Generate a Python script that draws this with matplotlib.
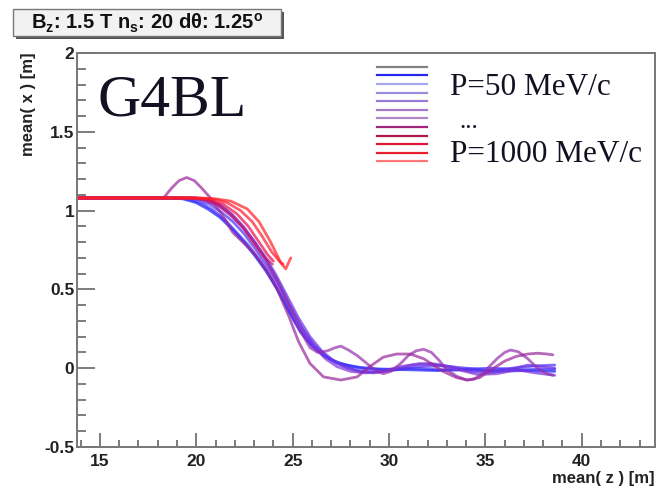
import matplotlib
matplotlib.use("Agg")
import matplotlib.pyplot as plt
from matplotlib.patches import Rectangle
from matplotlib.lines import Line2D

plt.rcParams['mathtext.fontset'] = 'custom'
plt.rcParams['mathtext.rm'] = 'Liberation Sans:bold'
plt.rcParams['mathtext.it'] = 'Liberation Sans:bold'
plt.rcParams['mathtext.bf'] = 'Liberation Sans:bold'

# ---------------- data ----------------
z_p1 = [13.9, 18.5, 19.3, 20.0, 20.6, 21.2, 21.8, 22.4, 23.0, 23.6, 24.2, 24.8, 25.4, 26.0, 26.6, 27.2, 27.8, 28.5, 29.5, 31.0, 32.5, 34.0, 35.5, 37.0, 38.6]
x_p1 = [1.08, 1.08, 1.075, 1.05, 1.01, 0.96, 0.89, 0.81, 0.72, 0.62, 0.50, 0.36, 0.23, 0.14, 0.08, 0.04, 0.02, 0.005, -0.005, -0.01, -0.015, -0.01, -0.02, -0.015, -0.02]

z_p2 = [13.9, 19.0, 19.7, 20.3, 20.9, 21.5, 22.1, 22.7, 23.3, 23.9, 24.5, 25.1, 25.7, 26.3, 26.9, 27.5, 28.1, 28.8, 29.8, 31.2, 32.6, 34.0, 35.4, 36.8, 38.6]
x_p2 = [1.08, 1.08, 1.07, 1.045, 1.0, 0.94, 0.86, 0.78, 0.68, 0.57, 0.44, 0.30, 0.19, 0.11, 0.06, 0.03, 0.01, -0.005, -0.01, 0.0, -0.01, -0.005, 0.0, -0.01, -0.005]

z_p3 = [13.9, 19.4, 20.1, 20.7, 21.3, 21.9, 22.5, 23.1, 23.7, 24.3, 24.9, 25.5, 26.1, 26.7, 27.3, 27.9, 28.6, 29.4, 30.4, 31.6, 32.8, 34.0, 35.2, 36.4, 37.6, 38.6]
x_p3 = [1.08, 1.08, 1.07, 1.04, 0.99, 0.93, 0.85, 0.75, 0.64, 0.52, 0.38, 0.25, 0.15, 0.08, 0.03, 0.0, -0.02, -0.025, -0.01, 0.01, 0.015, 0.0, -0.015, 0.0, 0.015, 0.02]

z_p4 = [13.9, 19.8, 20.5, 21.1, 21.7, 22.3, 22.9, 23.5, 24.1, 24.7, 25.3, 25.9, 26.5, 27.1, 27.7, 28.4, 29.2, 30.2, 31.2, 32.2, 33.2, 34.2, 35.2, 36.2, 37.2, 38.6]
x_p4 = [1.08, 1.08, 1.065, 1.035, 0.98, 0.91, 0.82, 0.72, 0.60, 0.46, 0.32, 0.20, 0.11, 0.05, 0.01, -0.02, -0.03, -0.01, 0.02, 0.03, 0.01, -0.02, -0.03, -0.01, 0.02, 0.0]

z_p5 = [13.9, 20.0, 20.7, 21.3, 21.9, 22.5, 23.1, 23.7, 24.3, 24.9, 25.5, 26.1, 26.7, 27.3, 28.0, 28.8, 29.6, 30.6, 31.6, 32.6, 33.6, 34.6, 35.6, 36.6, 37.6, 38.6]
x_p5 = [1.08, 1.08, 1.06, 1.03, 0.97, 0.89, 0.79, 0.67, 0.54, 0.39, 0.25, 0.14, 0.06, 0.01, -0.02, -0.03, -0.02, 0.01, 0.03, 0.02, -0.01, -0.04, -0.035, -0.01, -0.03, -0.045]

z_p6 = [13.9, 20.0, 20.6, 21.2, 21.8, 22.4, 23.0, 23.6, 24.2, 24.8, 25.3, 25.9, 26.3, 26.8, 27.2, 27.5, 27.9, 28.35, 28.95, 29.3, 29.7, 30.1, 30.6, 31.0, 31.4, 31.8, 32.2, 32.6, 33.0, 33.5, 34.0, 34.4, 34.8, 35.2, 35.6, 36.0, 36.3, 36.7, 37.2, 37.7, 38.1, 38.5]
x_p6 = [1.08, 1.08, 1.07, 1.04, 0.98, 0.90, 0.80, 0.69, 0.55, 0.40, 0.26, 0.13, 0.10, 0.11, 0.13, 0.14, 0.115, 0.08, 0.02, -0.015, -0.035, -0.02, 0.03, 0.08, 0.11, 0.12, 0.10, 0.05, -0.01, -0.05, -0.075, -0.07, -0.04, 0.01, 0.06, 0.10, 0.115, 0.105, 0.06, 0.0, -0.03, -0.045]

z_p7 = [13.9, 18.3, 18.7, 19.1, 19.5, 19.9, 20.3, 20.7, 21.3, 21.9, 22.5, 23.0, 23.6, 24.2, 24.8, 25.3, 25.9, 26.6, 27.5, 28.35, 29.0, 29.7, 30.4, 31.1, 31.8, 32.8, 33.5, 34.1, 34.7, 35.3, 36.0, 36.6, 37.2, 37.7, 38.2, 38.5]
x_p7 = [1.08, 1.08, 1.14, 1.19, 1.21, 1.19, 1.14, 1.085, 0.98, 0.86, 0.79, 0.73, 0.63, 0.50, 0.33, 0.17, 0.03, -0.055, -0.075, -0.055, 0.01, 0.07, 0.09, 0.09, 0.06, -0.02, -0.06, -0.075, -0.06, -0.01, 0.045, 0.075, 0.09, 0.095, 0.09, 0.085]

z_p8 = [13.9, 19.6, 20.4, 21.2, 21.9, 22.5, 23.0, 23.5, 23.95]
x_p8 = [1.08, 1.08, 1.07, 1.03, 0.96, 0.88, 0.79, 0.71, 0.66]

z_p9 = [13.9, 19.8, 20.6, 21.4, 22.1, 22.7, 23.2, 23.7, 24.0]
x_p9 = [1.08, 1.08, 1.07, 1.04, 0.98, 0.90, 0.81, 0.72, 0.68]

z_p10 = [13.9, 20.0, 20.8, 21.6, 22.3, 22.9, 23.4, 23.9, 24.3, 24.5]
x_p10 = [1.08, 1.08, 1.075, 1.05, 1.0, 0.93, 0.84, 0.74, 0.68, 0.66]

z_p11 = [13.9, 20.2, 21.0, 21.8, 22.65, 23.25, 23.86, 24.38, 24.64, 24.9]
x_p11 = [1.08, 1.08, 1.075, 1.06, 1.01, 0.93, 0.80, 0.67, 0.63, 0.70]

series_z = [z_p1, z_p2, z_p3, z_p4, z_p5, z_p6, z_p7, z_p8, z_p9, z_p10, z_p11]
series_x = [x_p1, x_p2, x_p3, x_p4, x_p5, x_p6, x_p7, x_p8, x_p9, x_p10, x_p11]
series_colors = [(0.1, 0.1, 1.0), (0.22, 0.18, 1.0), (0.32, 0.18, 0.95), (0.42, 0.2, 0.9),
                 (0.5, 0.2, 0.85), (0.58, 0.18, 0.68), (0.6, 0.15, 0.6), (0.78, 0.1, 0.45),
                 (0.9, 0.06, 0.3), (1.0, 0.1, 0.2), (1.0, 0.12, 0.12)]

legend_colors = ['#808080', '#2828f0', '#a8a8f0', '#9c8ce0', '#9a7cd8', '#a878c8',
                 '#b088c8', '#a0287c', '#b0184c', '#e01838', '#e82030', '#ff7878']
legend_labels = ['P=50 MeV/c', '...', 'P=1000 MeV/c']

x_ticks = [15, 20, 25, 30, 35, 40]
y_ticks = [-0.5, 0, 0.5, 1, 1.5, 2]
y_tick_labels = ['-0.5', '0', '0.5', '1', '1.5', '2']

title = r"B$_{z}$: 1.5 T n$_{s}$: 20 dθ: 1.25$^{o}$"

# ---------------- figure ----------------
W, H = 656, 493
fig = plt.figure(figsize=(W / 100, H / 100), dpi=100)
ax = fig.add_axes([77 / W, 1 - 447 / H, (655 - 77) / W, (447 - 53) / H])

for zs, xs, c in zip(series_z, series_x, series_colors):
    ax.plot(zs, xs, color=c, lw=2.0, alpha=0.7, solid_capstyle='round',
            solid_joinstyle='round')

ax.set_xlim(13.81, 43.8)
ax.set_ylim(-0.5, 2.0)
ax.set_xticks(x_ticks)
ax.set_xticklabels([str(t) for t in x_ticks])
ax.set_yticks(y_ticks)
ax.set_yticklabels(y_tick_labels)
ax.xaxis.set_minor_locator(matplotlib.ticker.MultipleLocator(1))
ax.yaxis.set_minor_locator(matplotlib.ticker.MultipleLocator(0.1))

ax.tick_params(axis='both', which='both', direction='in', color='#666666', width=1.2,
               top=False, right=False, labelcolor='#222222')
ax.tick_params(axis='y', which='major', length=13, pad=2)
ax.tick_params(axis='y', which='minor', length=6.5)
ax.tick_params(axis='x', which='major', length=10, pad=5)
ax.tick_params(axis='x', which='minor', length=5)
for lab in ax.get_xticklabels() + ax.get_yticklabels():
    lab.set_fontfamily('Liberation Sans')
    lab.set_fontweight('bold')
    lab.set_fontsize(12.5)
for s in ax.spines.values():
    s.set_color('#777777')
    s.set_linewidth(1.4)

# axis titles
fig.text(655 / W, 1 - 479 / H, 'mean( z ) [m]', ha='right', va='center',
         fontfamily='Liberation Sans', fontweight='bold', fontsize=12, color='#222222')
fig.text(28 / W, 1 - 53 / H, 'mean( x ) [m]', ha='center', va='top', rotation=90,
         fontfamily='Liberation Sans', fontweight='bold', fontsize=12, color='#222222')

# G4BL label
fig.text(97 / W, 1 - 116 / H, 'G4BL', ha='left', va='baseline',
         fontfamily='Liberation Serif', fontsize=43, color='#111122')

# legend (manual, ROOT style)
y0 = 66.7
for i, c in enumerate(legend_colors):
    yy = 1 - (y0 + i * 8.6) / H
    fig.add_artist(Line2D([377 / W, 427 / W], [yy, yy], color=c, lw=1.6,
                          transform=fig.transFigure))
fig.text(450 / W, 1 - 95 / H, legend_labels[0], ha='left', va='baseline',
         fontfamily='Liberation Serif', fontsize=22.5, color='#111122')
fig.text(459 / W, 1 - 128 / H, legend_labels[1], ha='left', va='baseline',
         fontfamily='Liberation Serif', fontsize=18, color='#111122')
fig.text(450 / W, 1 - 162 / H, legend_labels[2], ha='left', va='baseline',
         fontfamily='Liberation Serif', fontsize=22.5, color='#111122')

# title box with shadow
fig.add_artist(Rectangle((16 / W, 1 - 39 / H), (284 - 16) / W, (39 - 12) / H,
                         transform=fig.transFigure, facecolor='#555555', edgecolor='none'))
fig.add_artist(Rectangle((13 / W, 1 - 36 / H), (281 - 13) / W, (36 - 9) / H,
                         transform=fig.transFigure, facecolor='#f2f2f2', edgecolor='#777777', lw=1.0))
fig.text(147 / W, 1 - 23 / H, title, ha='center', va='center',
         fontfamily='Liberation Sans', fontweight='bold', fontsize=14.5, color='#111111')

fig.savefig('out.png', dpi=100)
